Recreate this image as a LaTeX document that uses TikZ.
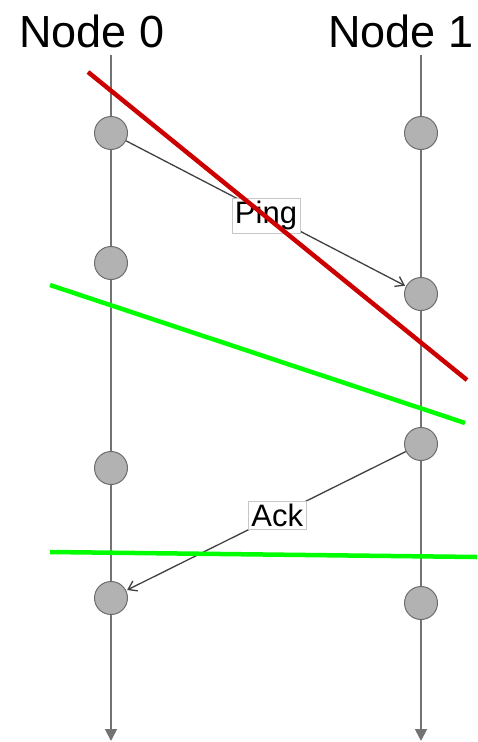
\documentclass[tikz,border=0pt]{standalone}
\usepackage{fontspec}
\setmainfont{Liberation Sans}
\usepackage{tikz}
\usetikzlibrary{arrows.meta,positioning}

\begin{document}
\begin{tikzpicture}[x=1pt,y=-1pt,
  life/.style={draw=gray!90!black, line width=1.8pt, -{Triangle[length=12pt,width=12pt]}},
  event/.style={circle, fill=gray!60, draw=gray!85!black, line width=1pt, minimum size=33pt, inner sep=0pt},
  msg/.style={draw=black!75, line width=1.3pt, -{Straight Barb[length=8pt,width=11pt]}, shorten >=1pt},
  lbl/.style={fill=white, draw=gray!45, line width=0.8pt, inner sep=3pt, font=\fontsize{31}{33}\selectfont},
  cut/.style={line width=4.5pt}]
\useasboundingbox (0,0) rectangle (477,742);
% process headers
\node[font=\fontsize{45}{48}\selectfont] (head0) at (92,31) {Node 0};
\node[font=\fontsize{45}{48}\selectfont] (head1) at (401,31) {Node 1};
% time lines
\coordinate (top0) at (111,55);
\coordinate (top1) at (421,55);
\coordinate (end0) at (111,741);
\coordinate (end1) at (421,741);
\draw[life] (top0) -- (end0);
\draw[life] (top1) -- (end1);
% events on each process
\node[event] (a0) at (111,133) {};
\node[event] (a1) at (111,263) {};
\node[event] (a2) at (111,468) {};
\node[event] (a3) at (111,598) {};
\node[event] (b0) at (421,133) {};
\node[event] (b1) at (421,294) {};
\node[event] (b2) at (421,444) {};
\node[event] (b3) at (421,603) {};
% messages
\draw[msg] (a0) -- node[lbl, pos=0.5, yshift=-2pt] (ping) {Ping} (b1);
\draw[msg] (b2) -- node[lbl, pos=0.46] (ack) {Ack} (a3);
% cuts
\coordinate (r0) at (88,72);
\coordinate (r1) at (467,380);
\coordinate (g0) at (50,285);
\coordinate (g1) at (465,423);
\coordinate (h0) at (50,552);
\coordinate (h1) at (477,557);
\draw[cut, red!80!black] (r0) -- (r1);
\draw[cut, green] (g0) -- (g1);
\draw[cut, green] (h0) -- (h1);
\end{tikzpicture}
\end{document}
